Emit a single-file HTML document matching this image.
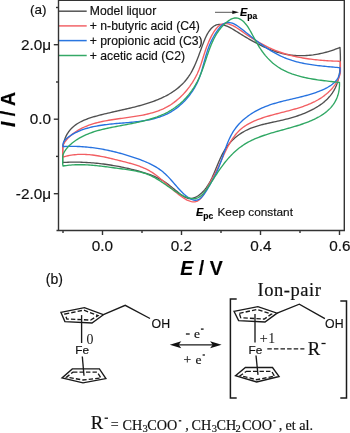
<!DOCTYPE html>
<html><head><meta charset="utf-8"><style>
html,body{margin:0;padding:0;background:#fff;width:350px;height:433px;overflow:hidden}
svg{display:block;will-change:transform}
.s{font-family:"Liberation Sans",sans-serif}
.r{font-family:"Liberation Serif",serif}
text{stroke:#111;stroke-width:0.18px}
</style></head><body>
<svg width="350" height="433" viewBox="0 0 350 433">
<rect width="350" height="433" fill="#fff"/>
<g fill="none" stroke-width="1.35" stroke-linejoin="round" stroke-linecap="round">
<path d="M63.00,162.50 L62.73,161.13 L62.70,159.66 L62.70,158.12 L62.70,156.50 L62.70,154.83 L62.70,153.11 L62.70,151.36 L62.70,149.59 L62.73,147.81 L63.02,146.03 L63.36,144.27 L63.77,142.53 L64.25,140.84 L64.79,139.19 L65.40,137.61 L66.07,136.10 L66.81,134.67 L67.60,133.30 L68.46,132.01 L69.38,130.78 L70.35,129.61 L71.38,128.50 L72.45,127.45 L73.58,126.46 L74.75,125.52 L75.96,124.63 L77.22,123.78 L78.52,122.99 L79.85,122.23 L81.23,121.52 L82.63,120.84 L84.06,120.20 L85.53,119.59 L87.02,119.01 L88.53,118.47 L90.07,117.94 L91.63,117.44 L93.20,116.96 L94.79,116.50 L96.40,116.05 L98.01,115.61 L99.63,115.19 L101.27,114.77 L102.90,114.36 L104.55,113.96 L106.19,113.57 L107.85,113.18 L109.50,112.79 L111.16,112.41 L112.83,112.03 L114.49,111.65 L116.16,111.28 L117.82,110.90 L119.49,110.53 L121.16,110.15 L122.82,109.77 L124.49,109.40 L126.15,109.01 L127.81,108.63 L129.47,108.24 L131.12,107.84 L132.77,107.44 L134.41,107.03 L136.04,106.61 L137.67,106.19 L139.30,105.75 L140.91,105.31 L142.52,104.86 L144.12,104.39 L145.70,103.91 L147.28,103.42 L148.85,102.92 L150.40,102.40 L151.95,101.87 L153.48,101.32 L154.99,100.75 L156.50,100.17 L157.98,99.57 L159.46,98.95 L160.92,98.31 L162.36,97.65 L163.78,96.97 L165.19,96.27 L166.58,95.54 L167.95,94.79 L169.30,94.02 L170.63,93.22 L171.94,92.40 L173.22,91.55 L174.49,90.68 L175.73,89.77 L176.95,88.84 L178.15,87.88 L179.32,86.88 L180.47,85.86 L181.59,84.80 L182.68,83.72 L183.75,82.60 L184.79,81.44 L185.81,80.25 L186.79,79.03 L187.74,77.77 L188.67,76.47 L189.56,75.13 L190.42,73.76 L191.26,72.35 L192.06,70.90 L192.83,69.42 L193.58,67.91 L194.31,66.37 L195.02,64.80 L195.70,63.21 L196.38,61.60 L197.03,59.97 L197.68,58.32 L198.31,56.66 L198.93,54.99 L199.55,53.31 L200.17,51.63 L200.78,49.94 L201.40,48.26 L202.01,46.57 L202.63,44.89 L203.26,43.22 L203.90,41.56 L204.56,39.91 L205.25,38.30 L205.97,36.72 L206.74,35.17 L207.55,33.68 L208.43,32.23 L209.36,30.84 L210.37,29.53 L211.44,28.31 L212.57,27.21 L213.75,26.27 L214.98,25.51 L216.26,24.95 L217.57,24.59 L218.92,24.41 L220.30,24.41 L221.72,24.55 L223.15,24.84 L224.61,25.26 L226.08,25.79 L227.57,26.42 L229.06,27.13 L230.57,27.92 L232.07,28.76 L233.58,29.65 L235.08,30.57 L236.57,31.50 L238.05,32.43 L239.52,33.35 L240.96,34.25 L242.40,35.14 L243.82,36.00 L245.23,36.85 L246.64,37.68 L248.04,38.50 L249.44,39.30 L250.83,40.09 L252.24,40.87 L253.64,41.64 L255.06,42.40 L256.48,43.16 L257.92,43.91 L259.37,44.65 L260.83,45.38 L262.30,46.10 L263.78,46.81 L265.28,47.50 L266.79,48.17 L268.30,48.83 L269.83,49.47 L271.36,50.08 L272.91,50.66 L274.46,51.22 L276.02,51.75 L277.59,52.25 L279.16,52.72 L280.75,53.15 L282.33,53.55 L283.93,53.91 L285.53,54.24 L287.14,54.53 L288.75,54.79 L290.36,55.02 L291.98,55.21 L293.60,55.37 L295.22,55.49 L296.85,55.59 L298.48,55.65 L300.11,55.68 L301.74,55.68 L303.37,55.65 L305.00,55.59 L306.63,55.50 L308.26,55.38 L309.89,55.23 L311.52,55.05 L313.15,54.85 L314.77,54.61 L316.39,54.35 L318.00,54.06 L319.62,53.75 L321.22,53.41 L322.83,53.04 L324.42,52.65 L326.01,52.23 L327.60,51.79 L329.18,51.32 L330.75,50.83 L332.31,50.31 L333.87,49.78 L335.41,49.22 L336.95,48.63 L338.48,48.03 L340.00,47.40 L340.00,47.40 L340.09,48.98 L340.17,50.59 L340.24,52.23 L340.30,53.89 L340.35,55.57 L340.38,57.28 L340.39,58.99 L340.38,60.72 L340.34,62.46 L340.28,64.21 L340.20,65.96 L340.08,67.70 L339.93,69.45 L339.74,71.18 L339.52,72.91 L339.26,74.62 L338.95,76.32 L338.61,78.00 L338.21,79.65 L337.77,81.28 L337.28,82.88 L336.73,84.44 L336.13,85.98 L335.47,87.47 L334.76,88.92 L333.98,90.33 L333.16,91.71 L332.28,93.04 L331.34,94.34 L330.36,95.60 L329.33,96.82 L328.25,98.01 L327.13,99.16 L325.97,100.28 L324.76,101.36 L323.51,102.41 L322.23,103.43 L320.91,104.41 L319.55,105.37 L318.16,106.29 L316.74,107.18 L315.29,108.04 L313.81,108.88 L312.30,109.68 L310.77,110.46 L309.22,111.21 L307.65,111.93 L306.05,112.63 L304.44,113.30 L302.81,113.95 L301.17,114.58 L299.51,115.18 L297.84,115.75 L296.16,116.31 L294.48,116.85 L292.79,117.36 L291.09,117.85 L289.39,118.33 L287.69,118.78 L285.99,119.22 L284.29,119.64 L282.59,120.04 L280.90,120.43 L279.21,120.81 L277.53,121.18 L275.86,121.54 L274.19,121.90 L272.52,122.26 L270.87,122.61 L269.22,122.97 L267.59,123.34 L265.96,123.72 L264.34,124.10 L262.73,124.50 L261.13,124.92 L259.55,125.35 L257.98,125.81 L256.41,126.29 L254.87,126.79 L253.34,127.32 L251.82,127.89 L250.31,128.48 L248.83,129.12 L247.36,129.79 L245.90,130.50 L244.47,131.26 L243.05,132.06 L241.65,132.91 L240.27,133.81 L238.91,134.75 L237.58,135.74 L236.28,136.77 L235.00,137.84 L233.76,138.96 L232.54,140.12 L231.36,141.33 L230.22,142.57 L229.11,143.85 L228.05,145.17 L227.02,146.53 L226.04,147.93 L225.10,149.37 L224.21,150.84 L223.35,152.33 L222.52,153.86 L221.73,155.41 L220.97,156.98 L220.23,158.57 L219.50,160.18 L218.80,161.79 L218.11,163.42 L217.43,165.05 L216.75,166.68 L216.08,168.32 L215.41,169.94 L214.73,171.57 L214.05,173.18 L213.35,174.78 L212.64,176.36 L211.91,177.93 L211.15,179.47 L210.38,180.99 L209.57,182.47 L208.73,183.93 L207.85,185.35 L206.93,186.73 L205.97,188.08 L204.97,189.37 L203.91,190.63 L202.80,191.83 L201.63,192.97 L200.40,194.06 L199.12,195.07 L197.79,195.98 L196.41,196.79 L195.00,197.46 L193.55,197.98 L192.07,198.33 L190.56,198.51 L189.04,198.47 L187.50,198.22 L185.96,197.73 L184.40,196.99 L182.86,196.03 L181.32,194.93 L179.81,193.75 L178.33,192.57 L176.88,191.39 L175.45,190.22 L174.04,189.06 L172.64,187.91 L171.24,186.79 L169.86,185.70 L168.47,184.63 L167.07,183.60 L165.67,182.61 L164.25,181.67 L162.81,180.77 L161.36,179.91 L159.90,179.09 L158.41,178.32 L156.92,177.58 L155.41,176.88 L153.89,176.21 L152.36,175.57 L150.81,174.96 L149.26,174.38 L147.69,173.83 L146.12,173.30 L144.53,172.79 L142.94,172.30 L141.34,171.83 L139.74,171.38 L138.13,170.94 L136.51,170.52 L134.89,170.10 L133.26,169.69 L131.63,169.30 L130.00,168.91 L128.36,168.53 L126.72,168.16 L125.07,167.80 L123.42,167.45 L121.77,167.10 L120.12,166.77 L118.46,166.45 L116.80,166.14 L115.13,165.84 L113.47,165.55 L111.80,165.27 L110.13,165.00 L108.45,164.75 L106.78,164.50 L105.10,164.26 L103.42,164.04 L101.74,163.83 L100.06,163.63 L98.38,163.44 L96.70,163.26 L95.01,163.10 L93.33,162.95 L91.64,162.81 L89.95,162.68 L88.27,162.57 L86.58,162.47 L84.89,162.38 L83.20,162.30 L81.51,162.24 L79.83,162.20 L78.14,162.16 L76.45,162.14 L74.77,162.14 L73.08,162.14 L71.40,162.17 L69.72,162.20 L68.04,162.26 L66.36,162.32 L64.68,162.40 L63.00,162.50Z" stroke="#505050"/>
<path d="M63.00,157.00 L62.70,155.21 L62.70,153.47 L62.70,151.79 L62.70,150.16 L62.70,148.58 L62.70,147.06 L62.92,145.59 L63.57,144.17 L64.34,142.80 L65.21,141.49 L66.18,140.22 L67.22,139.00 L68.32,137.83 L69.47,136.71 L70.65,135.64 L71.86,134.61 L73.10,133.63 L74.36,132.70 L75.65,131.80 L76.97,130.95 L78.31,130.14 L79.67,129.36 L81.05,128.62 L82.46,127.92 L83.88,127.26 L85.33,126.62 L86.79,126.02 L88.28,125.45 L89.77,124.91 L91.29,124.40 L92.82,123.91 L94.36,123.45 L95.92,123.02 L97.48,122.61 L99.06,122.22 L100.65,121.85 L102.25,121.50 L103.86,121.16 L105.48,120.85 L107.10,120.54 L108.72,120.26 L110.36,119.98 L111.99,119.72 L113.63,119.46 L115.27,119.22 L116.92,118.98 L118.56,118.75 L120.21,118.52 L121.85,118.30 L123.49,118.08 L125.13,117.85 L126.77,117.63 L128.41,117.41 L130.04,117.18 L131.67,116.94 L133.30,116.70 L134.92,116.45 L136.54,116.20 L138.15,115.93 L139.76,115.65 L141.35,115.35 L142.95,115.04 L144.53,114.72 L146.10,114.37 L147.67,114.01 L149.23,113.63 L150.77,113.22 L152.31,112.79 L153.84,112.34 L155.35,111.86 L156.85,111.35 L158.34,110.82 L159.82,110.25 L161.28,109.65 L162.73,109.02 L164.16,108.36 L165.58,107.66 L166.99,106.92 L168.37,106.14 L169.74,105.32 L171.10,104.46 L172.43,103.57 L173.75,102.63 L175.04,101.65 L176.32,100.64 L177.57,99.60 L178.81,98.52 L180.02,97.41 L181.20,96.28 L182.37,95.11 L183.51,93.92 L184.62,92.70 L185.71,91.46 L186.77,90.20 L187.80,88.92 L188.81,87.62 L189.79,86.30 L190.73,84.97 L191.65,83.62 L192.54,82.27 L193.39,80.90 L194.21,79.52 L195.00,78.13 L195.75,76.74 L196.47,75.34 L197.16,73.94 L197.80,72.54 L198.41,71.14 L198.99,69.74 L199.53,68.34 L200.05,66.93 L200.55,65.52 L201.03,64.10 L201.50,62.67 L201.96,61.22 L202.42,59.76 L202.88,58.29 L203.35,56.79 L203.82,55.28 L204.32,53.74 L204.83,52.17 L205.37,50.58 L205.93,48.96 L206.53,47.31 L207.17,45.62 L207.86,43.90 L208.58,42.14 L209.36,40.38 L210.17,38.61 L211.03,36.86 L211.94,35.15 L212.88,33.49 L213.86,31.90 L214.88,30.40 L215.93,29.01 L217.02,27.73 L218.15,26.60 L219.30,25.62 L220.49,24.82 L221.71,24.21 L222.96,23.79 L224.24,23.57 L225.54,23.51 L226.87,23.62 L228.21,23.88 L229.58,24.27 L230.96,24.78 L232.35,25.40 L233.76,26.11 L235.18,26.91 L236.61,27.78 L238.05,28.70 L239.48,29.66 L240.92,30.66 L242.37,31.67 L243.81,32.68 L245.24,33.69 L246.67,34.67 L248.10,35.63 L249.52,36.58 L250.94,37.50 L252.35,38.41 L253.76,39.30 L255.17,40.16 L256.58,41.01 L257.99,41.84 L259.40,42.65 L260.81,43.44 L262.22,44.21 L263.63,44.96 L265.05,45.69 L266.46,46.40 L267.88,47.09 L269.31,47.77 L270.74,48.42 L272.17,49.06 L273.61,49.68 L275.06,50.28 L276.52,50.86 L277.98,51.42 L279.45,51.97 L280.93,52.49 L282.42,53.00 L283.92,53.49 L285.43,53.96 L286.95,54.41 L288.48,54.85 L290.02,55.27 L291.58,55.66 L293.15,56.05 L294.73,56.41 L296.32,56.76 L297.92,57.09 L299.53,57.40 L301.14,57.70 L302.77,57.99 L304.39,58.26 L306.03,58.51 L307.66,58.75 L309.31,58.98 L310.95,59.20 L312.59,59.40 L314.24,59.59 L315.89,59.77 L317.53,59.94 L319.18,60.09 L320.82,60.24 L322.45,60.37 L324.09,60.50 L325.72,60.61 L327.34,60.72 L328.95,60.82 L330.56,60.91 L332.16,60.99 L333.75,61.07 L335.33,61.13 L336.90,61.20 L338.46,61.25 L340.00,61.30 L340.00,61.30 L340.40,63.05 L340.40,64.78 L340.40,66.49 L340.40,68.18 L340.40,69.85 L340.40,71.50 L340.27,73.12 L339.88,74.72 L339.38,76.29 L338.80,77.83 L338.14,79.35 L337.40,80.83 L336.59,82.27 L335.71,83.69 L334.77,85.06 L333.77,86.40 L332.73,87.70 L331.64,88.96 L330.51,90.17 L329.34,91.34 L328.15,92.47 L326.93,93.55 L325.68,94.59 L324.41,95.59 L323.11,96.54 L321.79,97.46 L320.45,98.34 L319.09,99.18 L317.71,99.99 L316.30,100.77 L314.88,101.52 L313.43,102.23 L311.97,102.92 L310.50,103.58 L309.00,104.21 L307.49,104.82 L305.97,105.41 L304.43,105.97 L302.88,106.52 L301.32,107.04 L299.74,107.56 L298.16,108.05 L296.57,108.53 L294.96,109.00 L293.35,109.46 L291.73,109.90 L290.10,110.34 L288.47,110.78 L286.83,111.21 L285.19,111.63 L283.55,112.05 L281.90,112.47 L280.25,112.89 L278.60,113.32 L276.95,113.75 L275.30,114.18 L273.65,114.62 L272.01,115.07 L270.36,115.52 L268.72,115.99 L267.09,116.47 L265.46,116.97 L263.84,117.48 L262.23,118.00 L260.64,118.55 L259.06,119.12 L257.50,119.72 L255.95,120.33 L254.43,120.98 L252.93,121.65 L251.45,122.36 L250.00,123.09 L248.57,123.86 L247.18,124.67 L245.81,125.51 L244.48,126.39 L243.19,127.32 L241.93,128.28 L240.72,129.29 L239.54,130.35 L238.41,131.45 L237.31,132.60 L236.26,133.79 L235.24,135.02 L234.26,136.29 L233.31,137.59 L232.39,138.93 L231.50,140.30 L230.64,141.69 L229.80,143.11 L228.98,144.56 L228.19,146.02 L227.41,147.50 L226.65,149.00 L225.90,150.51 L225.17,152.03 L224.45,153.55 L223.74,155.09 L223.03,156.62 L222.33,158.16 L221.64,159.69 L220.94,161.22 L220.24,162.75 L219.54,164.26 L218.84,165.76 L218.13,167.25 L217.41,168.72 L216.68,170.17 L215.93,171.61 L215.18,173.04 L214.42,174.48 L213.64,175.91 L212.85,177.37 L212.06,178.84 L211.25,180.33 L210.42,181.85 L209.59,183.41 L208.75,185.02 L207.89,186.67 L207.02,188.35 L206.13,190.05 L205.22,191.73 L204.28,193.36 L203.31,194.93 L202.32,196.40 L201.28,197.74 L200.20,198.94 L199.08,199.96 L197.91,200.77 L196.69,201.36 L195.43,201.72 L194.11,201.87 L192.77,201.82 L191.39,201.60 L189.98,201.22 L188.56,200.69 L187.12,200.04 L185.67,199.28 L184.23,198.42 L182.79,197.49 L181.36,196.50 L179.95,195.47 L178.55,194.41 L177.19,193.32 L175.83,192.22 L174.50,191.11 L173.18,189.98 L171.88,188.84 L170.59,187.69 L169.30,186.54 L168.03,185.40 L166.75,184.25 L165.49,183.11 L164.22,181.98 L162.95,180.86 L161.67,179.75 L160.39,178.66 L159.11,177.60 L157.81,176.55 L156.50,175.54 L155.18,174.55 L153.84,173.59 L152.49,172.68 L151.11,171.80 L149.72,170.96 L148.29,170.17 L146.85,169.41 L145.39,168.70 L143.90,168.03 L142.40,167.39 L140.88,166.78 L139.34,166.20 L137.79,165.65 L136.23,165.12 L134.65,164.62 L133.06,164.14 L131.47,163.67 L129.86,163.23 L128.25,162.79 L126.63,162.37 L125.01,161.96 L123.39,161.55 L121.77,161.15 L120.14,160.74 L118.52,160.34 L116.90,159.94 L115.27,159.54 L113.65,159.15 L112.03,158.76 L110.41,158.37 L108.79,158.00 L107.17,157.63 L105.56,157.28 L103.94,156.94 L102.32,156.61 L100.70,156.30 L99.08,156.01 L97.46,155.73 L95.84,155.48 L94.21,155.24 L92.59,155.03 L90.96,154.85 L89.34,154.69 L87.71,154.56 L86.08,154.46 L84.45,154.39 L82.81,154.35 L81.18,154.35 L79.54,154.38 L77.90,154.45 L76.26,154.56 L74.61,154.71 L72.96,154.90 L71.31,155.13 L69.66,155.41 L68.00,155.74 L66.34,156.11 L64.67,156.53 L63.00,157.00Z" stroke="#f25e62"/>
<path d="M63.00,146.60 L62.92,144.83 L63.19,143.26 L63.74,141.87 L64.53,140.63 L65.51,139.51 L66.61,138.49 L67.79,137.53 L69.01,136.63 L70.26,135.76 L71.54,134.93 L72.84,134.15 L74.17,133.40 L75.52,132.69 L76.90,132.02 L78.31,131.38 L79.73,130.78 L81.18,130.21 L82.65,129.67 L84.14,129.16 L85.64,128.68 L87.16,128.23 L88.70,127.81 L90.26,127.41 L91.83,127.03 L93.41,126.68 L95.01,126.35 L96.62,126.04 L98.23,125.75 L99.86,125.48 L101.50,125.23 L103.14,124.99 L104.79,124.77 L106.45,124.56 L108.11,124.37 L109.78,124.18 L111.44,124.01 L113.11,123.84 L114.78,123.69 L116.45,123.53 L118.12,123.39 L119.79,123.25 L121.45,123.11 L123.12,122.97 L124.78,122.83 L126.43,122.69 L128.09,122.55 L129.74,122.40 L131.38,122.25 L133.02,122.09 L134.66,121.92 L136.29,121.74 L137.91,121.55 L139.52,121.35 L141.13,121.14 L142.73,120.91 L144.32,120.66 L145.91,120.40 L147.48,120.11 L149.04,119.81 L150.60,119.48 L152.14,119.13 L153.67,118.76 L155.19,118.36 L156.70,117.93 L158.19,117.47 L159.68,116.99 L161.14,116.47 L162.60,115.92 L164.04,115.34 L165.47,114.72 L166.88,114.06 L168.27,113.36 L169.65,112.63 L171.01,111.85 L172.35,111.04 L173.68,110.18 L174.98,109.29 L176.27,108.36 L177.53,107.40 L178.78,106.40 L180.00,105.36 L181.20,104.30 L182.38,103.20 L183.53,102.08 L184.66,100.93 L185.76,99.74 L186.83,98.54 L187.88,97.30 L188.90,96.05 L189.89,94.77 L190.85,93.46 L191.78,92.14 L192.68,90.80 L193.54,89.44 L194.38,88.06 L195.18,86.67 L195.95,85.26 L196.68,83.84 L197.38,82.41 L198.04,80.96 L198.66,79.51 L199.25,78.04 L199.81,76.57 L200.33,75.09 L200.83,73.60 L201.31,72.10 L201.77,70.59 L202.21,69.08 L202.65,67.56 L203.07,66.04 L203.48,64.51 L203.90,62.97 L204.31,61.43 L204.73,59.88 L205.16,58.33 L205.59,56.78 L206.04,55.23 L206.51,53.67 L207.00,52.11 L207.51,50.54 L208.06,48.98 L208.63,47.42 L209.23,45.85 L209.88,44.28 L210.56,42.72 L211.29,41.15 L212.05,39.59 L212.86,38.04 L213.72,36.49 L214.61,34.95 L215.56,33.41 L216.54,31.89 L217.57,30.38 L218.65,28.91 L219.76,27.52 L220.91,26.23 L222.08,25.09 L223.29,24.13 L224.52,23.38 L225.76,22.87 L227.03,22.56 L228.31,22.46 L229.60,22.54 L230.91,22.79 L232.23,23.19 L233.56,23.73 L234.90,24.39 L236.24,25.16 L237.59,26.01 L238.94,26.95 L240.29,27.94 L241.64,28.98 L242.98,30.05 L244.33,31.13 L245.66,32.21 L246.99,33.28 L248.32,34.34 L249.64,35.40 L250.95,36.44 L252.27,37.48 L253.58,38.50 L254.88,39.52 L256.19,40.52 L257.50,41.50 L258.80,42.48 L260.11,43.44 L261.42,44.38 L262.73,45.32 L264.04,46.23 L265.36,47.13 L266.68,48.02 L268.01,48.88 L269.34,49.73 L270.68,50.56 L272.03,51.37 L273.38,52.17 L274.75,52.94 L276.12,53.69 L277.50,54.42 L278.89,55.13 L280.30,55.82 L281.72,56.49 L283.15,57.13 L284.59,57.75 L286.05,58.34 L287.52,58.91 L289.01,59.45 L290.52,59.97 L292.04,60.47 L293.58,60.93 L295.13,61.38 L296.69,61.80 L298.27,62.20 L299.86,62.57 L301.46,62.93 L303.06,63.27 L304.67,63.59 L306.30,63.89 L307.92,64.17 L309.55,64.44 L311.19,64.70 L312.82,64.94 L314.46,65.16 L316.10,65.38 L317.74,65.58 L319.37,65.77 L321.01,65.95 L322.63,66.13 L324.26,66.29 L325.88,66.45 L327.49,66.60 L329.09,66.75 L330.69,66.89 L332.27,67.03 L333.84,67.17 L335.40,67.30 L336.95,67.43 L338.48,67.57 L340.00,67.70 L340.00,67.70 L340.09,69.50 L340.02,71.21 L339.79,72.84 L339.43,74.39 L338.92,75.86 L338.29,77.26 L337.55,78.59 L336.68,79.85 L335.72,81.04 L334.66,82.17 L333.51,83.25 L332.29,84.26 L330.99,85.22 L329.63,86.13 L328.21,87.00 L326.74,87.81 L325.24,88.59 L323.70,89.33 L322.14,90.02 L320.56,90.69 L318.97,91.32 L317.39,91.93 L315.79,92.51 L314.20,93.06 L312.60,93.59 L311.00,94.10 L309.40,94.58 L307.79,95.05 L306.19,95.50 L304.58,95.94 L302.97,96.36 L301.37,96.77 L299.76,97.17 L298.15,97.56 L296.55,97.94 L294.94,98.32 L293.34,98.70 L291.74,99.07 L290.14,99.44 L288.54,99.81 L286.95,100.19 L285.36,100.57 L283.77,100.96 L282.19,101.35 L280.61,101.75 L279.04,102.17 L277.47,102.60 L275.91,103.04 L274.35,103.50 L272.80,103.97 L271.25,104.47 L269.71,104.98 L268.18,105.52 L266.66,106.08 L265.14,106.67 L263.63,107.29 L262.13,107.94 L260.64,108.61 L259.16,109.32 L257.69,110.07 L256.23,110.84 L254.78,111.65 L253.35,112.49 L251.94,113.36 L250.55,114.27 L249.18,115.20 L247.83,116.17 L246.51,117.17 L245.22,118.19 L243.95,119.25 L242.72,120.34 L241.52,121.46 L240.35,122.61 L239.22,123.79 L238.13,125.00 L237.08,126.23 L236.07,127.50 L235.11,128.80 L234.19,130.12 L233.31,131.47 L232.48,132.84 L231.68,134.24 L230.92,135.66 L230.20,137.11 L229.50,138.57 L228.83,140.05 L228.19,141.54 L227.56,143.05 L226.96,144.57 L226.38,146.11 L225.81,147.65 L225.25,149.21 L224.70,150.77 L224.15,152.33 L223.61,153.90 L223.07,155.47 L222.53,157.04 L221.98,158.61 L221.43,160.18 L220.87,161.74 L220.29,163.30 L219.70,164.85 L219.09,166.39 L218.46,167.93 L217.80,169.45 L217.13,170.96 L216.43,172.46 L215.71,173.96 L214.96,175.46 L214.19,176.96 L213.40,178.46 L212.59,179.97 L211.76,181.49 L210.91,183.02 L210.03,184.56 L209.14,186.12 L208.22,187.70 L207.29,189.30 L206.33,190.90 L205.35,192.46 L204.34,193.96 L203.31,195.37 L202.24,196.65 L201.13,197.78 L199.99,198.73 L198.81,199.47 L197.59,199.97 L196.33,200.21 L195.03,200.22 L193.71,200.02 L192.36,199.62 L191.01,199.05 L189.65,198.33 L188.30,197.49 L186.96,196.53 L185.64,195.50 L184.35,194.39 L183.08,193.24 L181.84,192.03 L180.62,190.79 L179.42,189.52 L178.24,188.22 L177.07,186.90 L175.91,185.56 L174.75,184.22 L173.60,182.88 L172.44,181.54 L171.29,180.22 L170.12,178.91 L168.95,177.64 L167.77,176.39 L166.56,175.18 L165.34,174.01 L164.10,172.90 L162.84,171.83 L161.55,170.81 L160.25,169.84 L158.92,168.91 L157.58,168.02 L156.22,167.17 L154.84,166.36 L153.45,165.58 L152.04,164.83 L150.62,164.11 L149.18,163.42 L147.73,162.76 L146.26,162.12 L144.79,161.50 L143.30,160.89 L141.81,160.31 L140.30,159.74 L138.79,159.18 L137.26,158.63 L135.74,158.09 L134.20,157.56 L132.66,157.04 L131.11,156.52 L129.55,156.02 L127.99,155.53 L126.42,155.05 L124.84,154.58 L123.27,154.12 L121.68,153.67 L120.09,153.23 L118.50,152.80 L116.90,152.39 L115.29,151.99 L113.68,151.59 L112.07,151.22 L110.46,150.85 L108.84,150.49 L107.22,150.15 L105.59,149.83 L103.96,149.51 L102.33,149.21 L100.70,148.92 L99.06,148.65 L97.43,148.39 L95.79,148.15 L94.15,147.91 L92.51,147.70 L90.86,147.50 L89.22,147.31 L87.58,147.14 L85.93,146.99 L84.29,146.85 L82.64,146.73 L81.00,146.62 L79.35,146.54 L77.71,146.46 L76.07,146.41 L74.43,146.37 L72.79,146.35 L71.15,146.34 L69.52,146.36 L67.88,146.39 L66.25,146.44 L64.63,146.51 L63.00,146.60Z" stroke="#2672e0"/>
<path d="M63.00,166.00 L62.70,164.05 L62.70,162.16 L62.70,160.35 L62.70,158.60 L62.70,156.91 L62.86,155.29 L63.45,153.72 L64.16,152.22 L65.01,150.78 L65.96,149.39 L67.01,148.07 L68.14,146.79 L69.34,145.58 L70.59,144.41 L71.89,143.30 L73.22,142.23 L74.57,141.22 L75.95,140.25 L77.35,139.33 L78.78,138.45 L80.23,137.61 L81.71,136.82 L83.20,136.06 L84.72,135.34 L86.25,134.66 L87.80,134.01 L89.37,133.39 L90.96,132.80 L92.57,132.24 L94.19,131.71 L95.82,131.20 L97.47,130.72 L99.13,130.25 L100.80,129.81 L102.48,129.39 L104.18,128.98 L105.88,128.59 L107.59,128.22 L109.31,127.85 L111.03,127.50 L112.76,127.15 L114.50,126.81 L116.24,126.48 L117.98,126.15 L119.73,125.82 L121.48,125.50 L123.23,125.17 L124.98,124.85 L126.72,124.52 L128.47,124.19 L130.22,123.85 L131.96,123.51 L133.70,123.16 L135.43,122.80 L137.16,122.44 L138.88,122.06 L140.60,121.67 L142.31,121.27 L144.00,120.85 L145.70,120.42 L147.38,119.96 L149.05,119.50 L150.71,119.01 L152.35,118.50 L153.99,117.97 L155.61,117.41 L157.21,116.84 L158.80,116.23 L160.37,115.60 L161.93,114.94 L163.47,114.25 L164.99,113.53 L166.49,112.78 L167.97,112.00 L169.43,111.18 L170.87,110.33 L172.29,109.44 L173.69,108.51 L175.06,107.56 L176.40,106.56 L177.73,105.54 L179.03,104.48 L180.31,103.39 L181.56,102.27 L182.78,101.12 L183.98,99.93 L185.15,98.72 L186.30,97.48 L187.42,96.21 L188.51,94.92 L189.57,93.59 L190.61,92.25 L191.62,90.87 L192.59,89.47 L193.54,88.05 L194.46,86.60 L195.35,85.13 L196.20,83.63 L197.03,82.12 L197.82,80.58 L198.58,79.02 L199.31,77.44 L200.02,75.84 L200.69,74.23 L201.34,72.60 L201.97,70.96 L202.58,69.31 L203.18,67.65 L203.76,65.98 L204.33,64.30 L204.89,62.62 L205.45,60.94 L206.01,59.25 L206.57,57.57 L207.13,55.88 L207.70,54.20 L208.28,52.53 L208.87,50.86 L209.47,49.20 L210.09,47.56 L210.73,45.92 L211.39,44.30 L212.08,42.70 L212.79,41.11 L213.54,39.54 L214.32,37.99 L215.14,36.47 L215.99,34.96 L216.89,33.49 L217.83,32.04 L218.81,30.62 L219.85,29.23 L220.94,27.88 L222.08,26.56 L223.29,25.27 L224.55,24.02 L225.88,22.82 L227.26,21.67 L228.69,20.62 L230.15,19.70 L231.64,18.93 L233.15,18.37 L234.65,18.03 L236.15,17.95 L237.63,18.16 L239.08,18.62 L240.50,19.33 L241.87,20.24 L243.20,21.34 L244.47,22.59 L245.68,23.96 L246.83,25.43 L247.91,26.98 L248.94,28.59 L249.92,30.24 L250.86,31.90 L251.77,33.56 L252.64,35.20 L253.50,36.80 L254.34,38.37 L255.17,39.91 L256.00,41.43 L256.83,42.92 L257.68,44.39 L258.54,45.84 L259.43,47.28 L260.35,48.70 L261.31,50.11 L262.29,51.51 L263.31,52.88 L264.36,54.24 L265.45,55.57 L266.57,56.87 L267.71,58.15 L268.90,59.39 L270.11,60.60 L271.36,61.78 L272.63,62.91 L273.94,64.00 L275.28,65.05 L276.65,66.06 L278.05,67.02 L279.48,67.93 L280.94,68.80 L282.42,69.63 L283.93,70.42 L285.47,71.17 L287.02,71.89 L288.60,72.57 L290.19,73.21 L291.81,73.82 L293.44,74.39 L295.09,74.94 L296.75,75.46 L298.43,75.94 L300.12,76.40 L301.82,76.84 L303.53,77.25 L305.25,77.63 L306.97,78.00 L308.70,78.34 L310.44,78.67 L312.18,78.98 L313.93,79.27 L315.67,79.54 L317.41,79.80 L319.16,80.05 L320.90,80.29 L322.63,80.51 L324.36,80.73 L326.09,80.94 L327.81,81.14 L329.51,81.34 L331.21,81.54 L332.90,81.73 L334.57,81.92 L336.23,82.11 L337.87,82.30 L339.50,82.50 L339.50,82.50 L339.52,84.27 L339.47,85.99 L339.35,87.66 L339.18,89.29 L338.94,90.87 L338.64,92.40 L338.28,93.89 L337.86,95.33 L337.38,96.74 L336.86,98.10 L336.27,99.42 L335.64,100.70 L334.95,101.94 L334.22,103.14 L333.44,104.30 L332.61,105.43 L331.74,106.53 L330.82,107.59 L329.86,108.61 L328.86,109.60 L327.82,110.56 L326.74,111.49 L325.63,112.39 L324.48,113.27 L323.29,114.11 L322.08,114.92 L320.83,115.71 L319.56,116.48 L318.25,117.22 L316.92,117.93 L315.57,118.63 L314.19,119.30 L312.79,119.95 L311.36,120.58 L309.92,121.19 L308.46,121.78 L306.98,122.36 L305.49,122.92 L303.99,123.47 L302.47,124.00 L300.94,124.51 L299.40,125.02 L297.85,125.51 L296.30,125.99 L294.74,126.46 L293.17,126.92 L291.60,127.38 L290.04,127.82 L288.47,128.27 L286.90,128.70 L285.34,129.13 L283.78,129.56 L282.23,129.98 L280.69,130.41 L279.15,130.83 L277.62,131.25 L276.11,131.68 L274.60,132.10 L273.11,132.53 L271.62,132.97 L270.15,133.41 L268.68,133.85 L267.23,134.31 L265.79,134.77 L264.36,135.25 L262.94,135.74 L261.53,136.24 L260.13,136.75 L258.75,137.28 L257.38,137.83 L256.01,138.39 L254.66,138.97 L253.33,139.57 L252.00,140.20 L250.69,140.84 L249.39,141.51 L248.10,142.20 L246.83,142.92 L245.57,143.66 L244.32,144.44 L243.08,145.24 L241.86,146.07 L240.65,146.93 L239.45,147.83 L238.27,148.76 L237.11,149.72 L235.95,150.71 L234.81,151.74 L233.69,152.79 L232.58,153.87 L231.48,154.97 L230.40,156.10 L229.34,157.25 L228.29,158.42 L227.26,159.62 L226.24,160.82 L225.24,162.05 L224.26,163.28 L223.29,164.54 L222.34,165.80 L221.41,167.07 L220.49,168.35 L219.60,169.64 L218.71,170.93 L217.84,172.23 L216.98,173.54 L216.12,174.85 L215.26,176.17 L214.41,177.50 L213.56,178.83 L212.70,180.16 L211.84,181.50 L210.97,182.85 L210.09,184.19 L209.19,185.54 L208.28,186.90 L207.35,188.25 L206.40,189.59 L205.43,190.90 L204.43,192.16 L203.41,193.35 L202.35,194.47 L201.27,195.48 L200.15,196.38 L198.99,197.15 L197.80,197.76 L196.56,198.22 L195.29,198.51 L193.98,198.64 L192.65,198.64 L191.29,198.51 L189.91,198.26 L188.51,197.90 L187.10,197.45 L185.69,196.91 L184.27,196.30 L182.86,195.63 L181.45,194.90 L180.06,194.14 L178.68,193.34 L177.31,192.52 L175.95,191.68 L174.61,190.82 L173.27,189.95 L171.95,189.06 L170.63,188.16 L169.32,187.25 L168.01,186.34 L166.70,185.43 L165.40,184.53 L164.10,183.63 L162.79,182.74 L161.49,181.86 L160.18,181.00 L158.86,180.16 L157.54,179.34 L156.21,178.55 L154.87,177.78 L153.52,177.05 L152.15,176.35 L150.78,175.69 L149.39,175.08 L147.98,174.50 L146.56,173.96 L145.13,173.47 L143.68,173.01 L142.22,172.58 L140.75,172.18 L139.27,171.81 L137.78,171.47 L136.28,171.15 L134.78,170.86 L133.27,170.58 L131.75,170.32 L130.23,170.08 L128.70,169.84 L127.18,169.62 L125.64,169.41 L124.11,169.20 L122.58,169.00 L121.05,168.79 L119.52,168.59 L117.99,168.38 L116.46,168.17 L114.93,167.96 L113.41,167.75 L111.89,167.54 L110.36,167.33 L108.84,167.13 L107.32,166.92 L105.80,166.72 L104.29,166.53 L102.77,166.34 L101.25,166.16 L99.73,165.98 L98.21,165.81 L96.70,165.65 L95.18,165.50 L93.66,165.36 L92.14,165.23 L90.62,165.12 L89.10,165.01 L87.58,164.92 L86.06,164.85 L84.54,164.79 L83.01,164.74 L81.48,164.72 L79.96,164.71 L78.43,164.72 L76.89,164.74 L75.36,164.79 L73.83,164.86 L72.29,164.95 L70.75,165.07 L69.20,165.20 L67.66,165.36 L66.11,165.55 L64.56,165.76 L63.00,166.00Z" stroke="#2fa763"/>
</g>
<g stroke-width="1.5">
<line x1="59" y1="11.2" x2="86.7" y2="11.2" stroke="#555"/>
<line x1="59" y1="25.9" x2="86.7" y2="25.9" stroke="#f26468"/>
<line x1="59" y1="40.6" x2="86.7" y2="40.6" stroke="#2a76e0"/>
<line x1="59" y1="55.5" x2="86.7" y2="55.5" stroke="#34a866"/>
</g>
<g class="s" font-size="12.2" fill="#111">
<text x="89.8" y="15.2">Model liquor</text>
<text x="89.8" y="30.2">+ n-butyric acid (C4)</text>
<text x="89.8" y="45.2">+ propionic acid (C3)</text>
<text x="89.8" y="60.1">+ acetic acid (C2)</text>
</g>
<g stroke="#333" stroke-width="1.4" fill="none">
<path d="M58.5,0.3 H344.3 V230.5 H56.5"/>
<line x1="58.5" y1="0" x2="58.5" y2="231"/>
<line x1="63.0" y1="230.5" x2="63.0" y2="233.0"/>
<line x1="102.5" y1="230.5" x2="102.5" y2="235.0"/>
<line x1="142.0" y1="230.5" x2="142.0" y2="233.0"/>
<line x1="181.5" y1="230.5" x2="181.5" y2="235.0"/>
<line x1="221.0" y1="230.5" x2="221.0" y2="233.0"/>
<line x1="260.5" y1="230.5" x2="260.5" y2="235.0"/>
<line x1="300.0" y1="230.5" x2="300.0" y2="233.0"/>
<line x1="339.5" y1="230.5" x2="339.5" y2="235.0"/>
<line x1="53.8" y1="193.7" x2="58.5" y2="193.7"/>
<line x1="56.0" y1="156.4" x2="58.5" y2="156.4"/>
<line x1="53.8" y1="119.2" x2="58.5" y2="119.2"/>
<line x1="56.0" y1="82.0" x2="58.5" y2="82.0"/>
<line x1="53.8" y1="44.7" x2="58.5" y2="44.7"/>
<line x1="56.0" y1="7.5" x2="58.5" y2="7.5"/>
</g>
<g class="s" font-size="15.3" fill="#111" text-anchor="middle">
<text x="102.3" y="250.6">0.0</text>
<text x="181.3" y="250.6">0.2</text>
<text x="260.8" y="250.6">0.4</text>
<text x="340" y="250.6">0.6</text>
</g>
<g class="s" font-size="15.3" fill="#111" text-anchor="end">
<text x="51" y="49.7">2.0&#956;</text>
<text x="51" y="124.2">0.0</text>
<text x="51" y="198.6">-2.0&#956;</text>
</g>
<text class="s" x="201.5" y="275" font-size="19.5" font-weight="bold" fill="#000" text-anchor="middle"><tspan font-style="italic">E</tspan> / V</text>
<text class="s" transform="translate(14.5,109.5) rotate(-90)" font-size="19.5" font-weight="bold" fill="#000" text-anchor="middle"><tspan font-style="italic">I</tspan> / A</text>
<text class="s" x="30" y="14" font-size="13.5" fill="#111">(a)</text>
<line x1="215" y1="12.3" x2="234" y2="12.3" stroke="#444" stroke-width="0.9"/>
<path d="M232.3,10.6 L239,12.3 L232.3,14 Z" fill="#111"/>
<text class="s" x="240" y="15.5" font-size="11" font-weight="bold" fill="#000"><tspan font-style="italic">E</tspan><tspan font-size="8.5" dy="3.5">pa</tspan></text>
<text class="s" x="196" y="215.5" font-size="11" font-weight="bold" fill="#000"><tspan font-style="italic">E</tspan><tspan font-size="8.5" dy="3">pc</tspan></text>
<text class="s" x="217.5" y="215.5" font-size="11.8" fill="#111">Keep constant</text>
<text class="s" x="45.8" y="283.5" font-size="14" fill="#111">(b)</text>
<g stroke="#1a1a1a" stroke-width="1.35" fill="none" stroke-linejoin="miter">
<path d="M60.9,312.3 L84.4,307.7 L103.4,314.7 L92,323 L64.9,321.6 Z"/>
<path d="M64.9,314.1 L83.7,310.1 L98,315.6 L90.6,320.1 L66.9,319 Z" stroke-dasharray="4.4,2.1"/>
<line x1="81.6" y1="315.1" x2="81.6" y2="343"/>
<path d="M103.4,314.7 L125.2,305.3 L150,318.5"/>
<line x1="82.3" y1="356.5" x2="84" y2="375.7"/>
<path d="M72.3,368.9 L99.4,368.9 L105.9,378.6 L83,382.9 L62,377.9 Z"/>
<path d="M73,372.1 L97.3,372.1 L100.9,377.9 L83,380 L66.6,377.1 Z" stroke-dasharray="4.4,2.1"/>
<line x1="177" y1="344.8" x2="213" y2="344.8"/>
<path d="M236.7,299.1 H230.4 V398 H236.7" stroke-width="1.5"/>
<path d="M340.3,301.1 H346.5 V398 H340.3" stroke-width="1.5"/>
<path d="M234,311.3 L257.9,306.6 L277.1,313.1 L265,322 L238.6,320.6 Z"/>
<path d="M239.3,313.4 L257.1,309.4 L271.4,314.1 L264.3,319.1 L240.7,317.7 Z" stroke-dasharray="4.4,2.1"/>
<line x1="255" y1="314.1" x2="255" y2="342.5"/>
<path d="M277.1,313.1 L299.3,304.2 L324.9,318.6"/>
<line x1="256" y1="355.5" x2="258" y2="374.9"/>
<path d="M245.4,367.5 L272.5,367.5 L279.1,376.5 L256.7,382 L235.5,375.7 Z"/>
<path d="M246.5,371.3 L271.7,371.3 L274.5,376.2 L256.7,379.7 L240.2,375.7 Z" stroke-dasharray="4.4,2.1"/>
<line x1="267.3" y1="348.8" x2="304.4" y2="348.8" stroke-dasharray="4.5,2.1"/>
</g>
<path d="M169.8,344.8 L181.3,341.3 L178.7,344.8 L181.3,348.3 Z" fill="#111"/>
<path d="M221.6,344.8 L210.1,341.3 L212.7,344.8 L210.1,348.3 Z" fill="#111"/>
<g class="s" fill="#111">
<text x="151.6" y="328.2" font-size="12.3">OH</text>
<text x="325.1" y="327.5" font-size="12.3">OH</text>
<text x="75.2" y="354.1" font-size="11.8">Fe</text>
<text x="248.6" y="353.8" font-size="11.8">Fe</text>
</g>
<g class="r" fill="#111">
<text x="86.5" y="344.2" font-size="13.8" style="stroke:none">0</text>
<text x="259.6" y="342.6" font-size="14.8" style="stroke:none">+</text><text x="268.3" y="342.6" font-size="13.8" style="stroke:none">1</text>
<text x="257.5" y="296" font-size="18.5" letter-spacing="0.55">Ion-pair</text>
<text x="307.8" y="354.6" font-size="18.6">R</text>
<text x="194" y="337.7" font-size="13.5">e</text>
<text x="195.6" y="363.6" font-size="13.5">e</text>
<text x="183.6" y="363.8" font-size="13.5">+</text>
<text x="90.8" y="429.3" font-size="18.6">R</text>
<text x="110.8" y="429" font-size="14">=</text>
<text x="122.5" y="429.8" font-size="14.2">CH</text>
<text x="142.4" y="432.1" font-size="10.5">3</text>
<text x="147.2" y="429.8" font-size="14.2">COO</text>
<text x="185.3" y="429.8" font-size="14.2">,</text>
<text x="191.5" y="429.8" font-size="14.2">CH</text>
<text x="211.8" y="432.1" font-size="10.5">3</text>
<text x="216.6" y="429.8" font-size="14.2">CH</text>
<text x="235.6" y="432.1" font-size="10.5">2</text>
<text x="242" y="429.8" font-size="14.2">COO</text>
<text x="278.8" y="429.8" font-size="14.2">,</text>
<text x="285.4" y="429.8" font-size="14.2">et al.</text>
</g>
<g stroke="#111" stroke-width="1.3">
<line x1="185.9" y1="334" x2="189.7" y2="334" stroke-width="1.3"/>
<line x1="200.9" y1="329.1" x2="203.6" y2="329.1"/>
<line x1="202.6" y1="355" x2="204.9" y2="355"/>
<line x1="321.5" y1="343.5" x2="325.6" y2="343.5"/>
<line x1="104.6" y1="418.2" x2="108" y2="418.2"/>
<line x1="178.8" y1="420.8" x2="181.3" y2="420.8"/>
<line x1="273.3" y1="420.8" x2="275.6" y2="420.8"/>
</g>

</svg>
</body></html>
